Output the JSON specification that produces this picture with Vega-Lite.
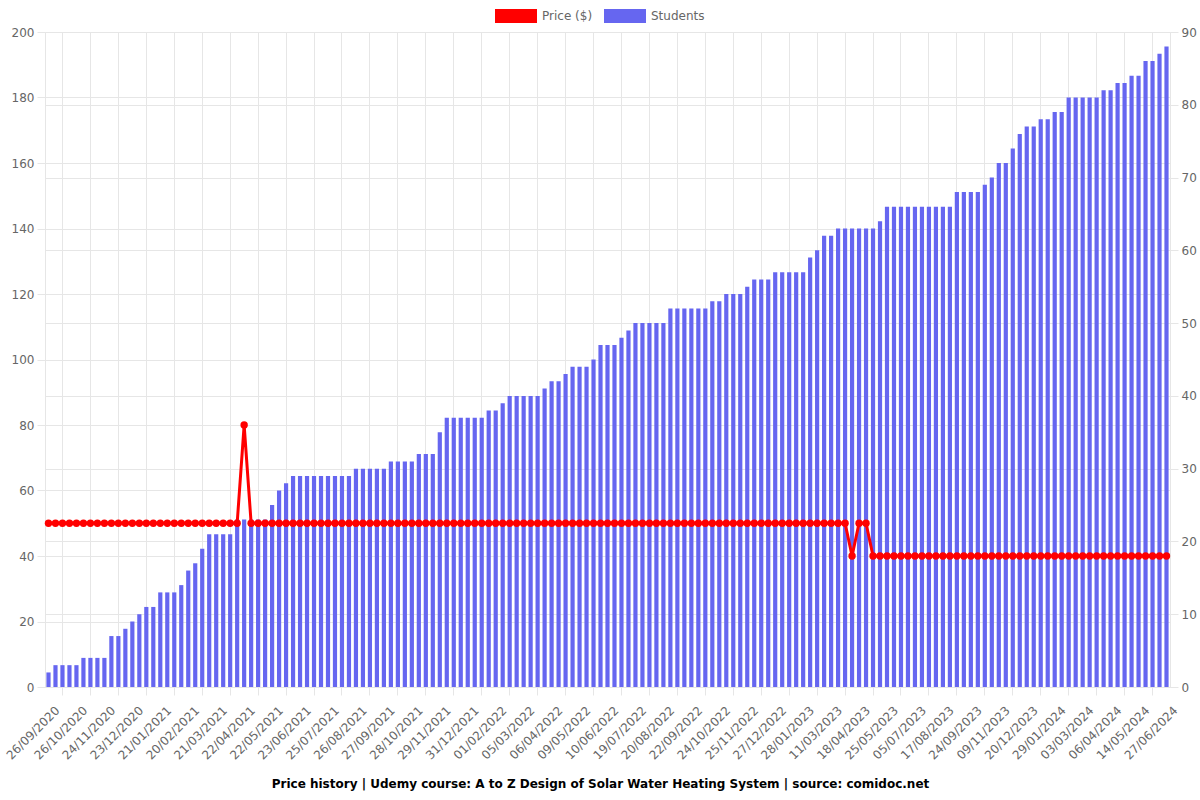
{
  "$schema": "https://vega.github.io/schema/vega-lite/v6.json",
  "width": 1125,
  "height": 655,
  "autosize": {"type": "none"},
  "padding": {"left": 45, "top": 32, "right": 30, "bottom": 113},
  "background": "white",
  "config": {
    "font": "DejaVu Sans",
    "view": {"stroke": "#e6e6e6"},
    "axis": {"labelColor": "#666666", "labelFontSize": 12, "gridColor": "#e6e6e6", "tickColor": "#e6e6e6", "domain": false}
  },
  "title": {
    "text": "Price history | Udemy course: A to Z Design of Solar Water Heating System | source: comidoc.net",
    "orient": "bottom", "anchor": "middle", "frame": "group", "fontSize": 12, "fontWeight": "bold", "color": "#000000", "offset": 18, "dx": -7
  },
  "data": {"values": [
    {"d": "26/09/2020", "p": 49.99, "s": 2},
    {"d": "03/10/2020", "p": 49.99, "s": 3},
    {"d": "11/10/2020", "p": 49.99, "s": 3},
    {"d": "18/10/2020", "p": 49.99, "s": 3},
    {"d": "26/10/2020", "p": 49.99, "s": 3},
    {"d": "02/11/2020", "p": 49.99, "s": 4},
    {"d": "09/11/2020", "p": 49.99, "s": 4},
    {"d": "17/11/2020", "p": 49.99, "s": 4},
    {"d": "24/11/2020", "p": 49.99, "s": 4},
    {"d": "01/12/2020", "p": 49.99, "s": 7},
    {"d": "08/12/2020", "p": 49.99, "s": 7},
    {"d": "16/12/2020", "p": 49.99, "s": 8},
    {"d": "23/12/2020", "p": 49.99, "s": 9},
    {"d": "30/12/2020", "p": 49.99, "s": 10},
    {"d": "06/01/2021", "p": 49.99, "s": 11},
    {"d": "14/01/2021", "p": 49.99, "s": 11},
    {"d": "21/01/2021", "p": 49.99, "s": 13},
    {"d": "28/01/2021", "p": 49.99, "s": 13},
    {"d": "05/02/2021", "p": 49.99, "s": 13},
    {"d": "12/02/2021", "p": 49.99, "s": 14},
    {"d": "20/02/2021", "p": 49.99, "s": 16},
    {"d": "27/02/2021", "p": 49.99, "s": 17},
    {"d": "06/03/2021", "p": 49.99, "s": 19},
    {"d": "14/03/2021", "p": 49.99, "s": 21},
    {"d": "21/03/2021", "p": 49.99, "s": 21},
    {"d": "29/03/2021", "p": 49.99, "s": 21},
    {"d": "06/04/2021", "p": 49.99, "s": 21},
    {"d": "14/04/2021", "p": 49.99, "s": 23},
    {"d": "22/04/2021", "p": 79.99, "s": 23},
    {"d": "29/04/2021", "p": 49.99, "s": 23},
    {"d": "07/05/2021", "p": 49.99, "s": 23},
    {"d": "14/05/2021", "p": 49.99, "s": 23},
    {"d": "22/05/2021", "p": 49.99, "s": 25},
    {"d": "30/05/2021", "p": 49.99, "s": 27},
    {"d": "07/06/2021", "p": 49.99, "s": 28},
    {"d": "15/06/2021", "p": 49.99, "s": 29},
    {"d": "23/06/2021", "p": 49.99, "s": 29},
    {"d": "01/07/2021", "p": 49.99, "s": 29},
    {"d": "09/07/2021", "p": 49.99, "s": 29},
    {"d": "17/07/2021", "p": 49.99, "s": 29},
    {"d": "25/07/2021", "p": 49.99, "s": 29},
    {"d": "02/08/2021", "p": 49.99, "s": 29},
    {"d": "10/08/2021", "p": 49.99, "s": 29},
    {"d": "18/08/2021", "p": 49.99, "s": 29},
    {"d": "26/08/2021", "p": 49.99, "s": 30},
    {"d": "03/09/2021", "p": 49.99, "s": 30},
    {"d": "11/09/2021", "p": 49.99, "s": 30},
    {"d": "19/09/2021", "p": 49.99, "s": 30},
    {"d": "27/09/2021", "p": 49.99, "s": 30},
    {"d": "05/10/2021", "p": 49.99, "s": 31},
    {"d": "12/10/2021", "p": 49.99, "s": 31},
    {"d": "20/10/2021", "p": 49.99, "s": 31},
    {"d": "28/10/2021", "p": 49.99, "s": 31},
    {"d": "05/11/2021", "p": 49.99, "s": 32},
    {"d": "13/11/2021", "p": 49.99, "s": 32},
    {"d": "21/11/2021", "p": 49.99, "s": 32},
    {"d": "29/11/2021", "p": 49.99, "s": 35},
    {"d": "07/12/2021", "p": 49.99, "s": 37},
    {"d": "15/12/2021", "p": 49.99, "s": 37},
    {"d": "23/12/2021", "p": 49.99, "s": 37},
    {"d": "31/12/2021", "p": 49.99, "s": 37},
    {"d": "08/01/2022", "p": 49.99, "s": 37},
    {"d": "16/01/2022", "p": 49.99, "s": 37},
    {"d": "24/01/2022", "p": 49.99, "s": 38},
    {"d": "01/02/2022", "p": 49.99, "s": 38},
    {"d": "09/02/2022", "p": 49.99, "s": 39},
    {"d": "17/02/2022", "p": 49.99, "s": 40},
    {"d": "25/02/2022", "p": 49.99, "s": 40},
    {"d": "05/03/2022", "p": 49.99, "s": 40},
    {"d": "13/03/2022", "p": 49.99, "s": 40},
    {"d": "21/03/2022", "p": 49.99, "s": 40},
    {"d": "29/03/2022", "p": 49.99, "s": 41},
    {"d": "06/04/2022", "p": 49.99, "s": 42},
    {"d": "14/04/2022", "p": 49.99, "s": 42},
    {"d": "22/04/2022", "p": 49.99, "s": 43},
    {"d": "01/05/2022", "p": 49.99, "s": 44},
    {"d": "09/05/2022", "p": 49.99, "s": 44},
    {"d": "17/05/2022", "p": 49.99, "s": 44},
    {"d": "25/05/2022", "p": 49.99, "s": 45},
    {"d": "02/06/2022", "p": 49.99, "s": 47},
    {"d": "10/06/2022", "p": 49.99, "s": 47},
    {"d": "20/06/2022", "p": 49.99, "s": 47},
    {"d": "29/06/2022", "p": 49.99, "s": 48},
    {"d": "09/07/2022", "p": 49.99, "s": 49},
    {"d": "19/07/2022", "p": 49.99, "s": 50},
    {"d": "27/07/2022", "p": 49.99, "s": 50},
    {"d": "04/08/2022", "p": 49.99, "s": 50},
    {"d": "12/08/2022", "p": 49.99, "s": 50},
    {"d": "20/08/2022", "p": 49.99, "s": 50},
    {"d": "28/08/2022", "p": 49.99, "s": 52},
    {"d": "05/09/2022", "p": 49.99, "s": 52},
    {"d": "14/09/2022", "p": 49.99, "s": 52},
    {"d": "22/09/2022", "p": 49.99, "s": 52},
    {"d": "30/09/2022", "p": 49.99, "s": 52},
    {"d": "08/10/2022", "p": 49.99, "s": 52},
    {"d": "16/10/2022", "p": 49.99, "s": 53},
    {"d": "24/10/2022", "p": 49.99, "s": 53},
    {"d": "01/11/2022", "p": 49.99, "s": 54},
    {"d": "09/11/2022", "p": 49.99, "s": 54},
    {"d": "17/11/2022", "p": 49.99, "s": 54},
    {"d": "25/11/2022", "p": 49.99, "s": 55},
    {"d": "03/12/2022", "p": 49.99, "s": 56},
    {"d": "11/12/2022", "p": 49.99, "s": 56},
    {"d": "19/12/2022", "p": 49.99, "s": 56},
    {"d": "27/12/2022", "p": 49.99, "s": 57},
    {"d": "04/01/2023", "p": 49.99, "s": 57},
    {"d": "12/01/2023", "p": 49.99, "s": 57},
    {"d": "20/01/2023", "p": 49.99, "s": 57},
    {"d": "28/01/2023", "p": 49.99, "s": 57},
    {"d": "07/02/2023", "p": 49.99, "s": 59},
    {"d": "18/02/2023", "p": 49.99, "s": 60},
    {"d": "28/02/2023", "p": 49.99, "s": 62},
    {"d": "11/03/2023", "p": 49.99, "s": 62},
    {"d": "20/03/2023", "p": 49.99, "s": 63},
    {"d": "30/03/2023", "p": 49.99, "s": 63},
    {"d": "08/04/2023", "p": 39.99, "s": 63},
    {"d": "18/04/2023", "p": 49.99, "s": 63},
    {"d": "27/04/2023", "p": 49.99, "s": 63},
    {"d": "06/05/2023", "p": 39.99, "s": 63},
    {"d": "16/05/2023", "p": 39.99, "s": 64},
    {"d": "25/05/2023", "p": 39.99, "s": 66},
    {"d": "04/06/2023", "p": 39.99, "s": 66},
    {"d": "14/06/2023", "p": 39.99, "s": 66},
    {"d": "25/06/2023", "p": 39.99, "s": 66},
    {"d": "05/07/2023", "p": 39.99, "s": 66},
    {"d": "16/07/2023", "p": 39.99, "s": 66},
    {"d": "27/07/2023", "p": 39.99, "s": 66},
    {"d": "06/08/2023", "p": 39.99, "s": 66},
    {"d": "17/08/2023", "p": 39.99, "s": 66},
    {"d": "26/08/2023", "p": 39.99, "s": 66},
    {"d": "05/09/2023", "p": 39.99, "s": 68},
    {"d": "15/09/2023", "p": 39.99, "s": 68},
    {"d": "24/09/2023", "p": 39.99, "s": 68},
    {"d": "05/10/2023", "p": 39.99, "s": 68},
    {"d": "17/10/2023", "p": 39.99, "s": 69},
    {"d": "28/10/2023", "p": 39.99, "s": 70},
    {"d": "09/11/2023", "p": 39.99, "s": 72},
    {"d": "19/11/2023", "p": 39.99, "s": 72},
    {"d": "29/11/2023", "p": 39.99, "s": 74},
    {"d": "10/12/2023", "p": 39.99, "s": 76},
    {"d": "20/12/2023", "p": 39.99, "s": 77},
    {"d": "30/12/2023", "p": 39.99, "s": 77},
    {"d": "09/01/2024", "p": 39.99, "s": 78},
    {"d": "19/01/2024", "p": 39.99, "s": 78},
    {"d": "29/01/2024", "p": 39.99, "s": 79},
    {"d": "06/02/2024", "p": 39.99, "s": 79},
    {"d": "15/02/2024", "p": 39.99, "s": 81},
    {"d": "23/02/2024", "p": 39.99, "s": 81},
    {"d": "03/03/2024", "p": 39.99, "s": 81},
    {"d": "11/03/2024", "p": 39.99, "s": 81},
    {"d": "20/03/2024", "p": 39.99, "s": 81},
    {"d": "28/03/2024", "p": 39.99, "s": 82},
    {"d": "06/04/2024", "p": 39.99, "s": 82},
    {"d": "15/04/2024", "p": 39.99, "s": 83},
    {"d": "25/04/2024", "p": 39.99, "s": 83},
    {"d": "04/05/2024", "p": 39.99, "s": 84},
    {"d": "14/05/2024", "p": 39.99, "s": 84},
    {"d": "25/05/2024", "p": 39.99, "s": 86},
    {"d": "05/06/2024", "p": 39.99, "s": 86},
    {"d": "16/06/2024", "p": 39.99, "s": 87},
    {"d": "27/06/2024", "p": 39.99, "s": 88}
  ]},
  "layer": [
    {
      "mark": {"type": "bar"},
      "encoding": {
        "x": {
          "field": "d", "type": "ordinal", "sort": null, "title": null,
          "scale": {"paddingInner": 0.4, "paddingOuter": 0.2},
          "axis": {
            "orient": "bottom", "grid": false, "ticks": false, "domain": false,
            "labelAngle": -45, "labelAlign": "right", "labelBaseline": "middle",
            "labelPadding": 21, "labelOffset": 9, "labelOverlap": false,
            "values": ["26/09/2020","26/10/2020","24/11/2020","23/12/2020","21/01/2021","20/02/2021","21/03/2021","22/04/2021","22/05/2021","23/06/2021","25/07/2021","26/08/2021","27/09/2021","28/10/2021","29/11/2021","31/12/2021","01/02/2022","05/03/2022","06/04/2022","09/05/2022","10/06/2022","19/07/2022","20/08/2022","22/09/2022","24/10/2022","25/11/2022","27/12/2022","28/01/2023","11/03/2023","18/04/2023","25/05/2023","05/07/2023","17/08/2023","24/09/2023","09/11/2023","20/12/2023","29/01/2024","03/03/2024","06/04/2024","14/05/2024","27/06/2024"]
          }
        },
        "y": {
          "field": "s", "type": "quantitative", "title": null,
          "scale": {"domain": [0, 90], "nice": false},
          "axis": {"orient": "right", "values": [0,10,20,30,40,50,60,70,80,90], "grid": true, "ticks": true, "tickSize": 8, "labelPadding": 3}
        },
        "color": {
          "datum": "Students",
          "scale": {"domain": ["Price ($)", "Students"], "range": ["#ff0000", "#6666f0"]},
          "legend": {
            "title": null, "orient": "none", "legendX": 450, "legendY": -37, "direction": "horizontal",
            "symbolType": "M-1,-0.333H1V0.333H-1Z", "symbolSize": 1764, "symbolStrokeWidth": 0, "symbolOpacity": 1,
            "labelFontSize": 12, "labelColor": "#666666", "labelOffset": 5, "columnPadding": 11
          }
        }
      }
    },
    {
      "mark": {"type": "line", "strokeWidth": 3, "point": {"filled": true, "size": 55, "opacity": 1}},
      "encoding": {
        "x": {
          "field": "d", "type": "ordinal", "sort": null, "title": null,
          "axis": {
            "orient": "bottom", "grid": true, "ticks": true, "tickSize": 8, "labels": false, "domain": false,
            "values": ["11/10/2020","09/11/2020","08/12/2020","06/01/2021","05/02/2021","06/03/2021","06/04/2021","07/05/2021","07/06/2021","09/07/2021","10/08/2021","11/09/2021","12/10/2021","13/11/2021","15/12/2021","16/01/2022","17/02/2022","21/03/2022","22/04/2022","25/05/2022","29/06/2022","04/08/2022","05/09/2022","08/10/2022","09/11/2022","11/12/2022","12/01/2023","18/02/2023","30/03/2023","06/05/2023","14/06/2023","27/07/2023","05/09/2023","17/10/2023","29/11/2023","09/01/2024","15/02/2024","20/03/2024","25/04/2024","05/06/2024"]
          }
        },
        "y": {
          "field": "p", "type": "quantitative", "title": null,
          "scale": {"domain": [0, 200], "nice": false},
          "axis": {"orient": "left", "values": [0,20,40,60,80,100,120,140,160,180,200], "grid": true, "ticks": true, "tickSize": 8, "labelPadding": 3}
        },
        "color": {"datum": "Price ($)", "legend": null}
      }
    }
  ],
  "resolve": {"scale": {"y": "independent"}, "axis": {"x": "independent"}}
}
